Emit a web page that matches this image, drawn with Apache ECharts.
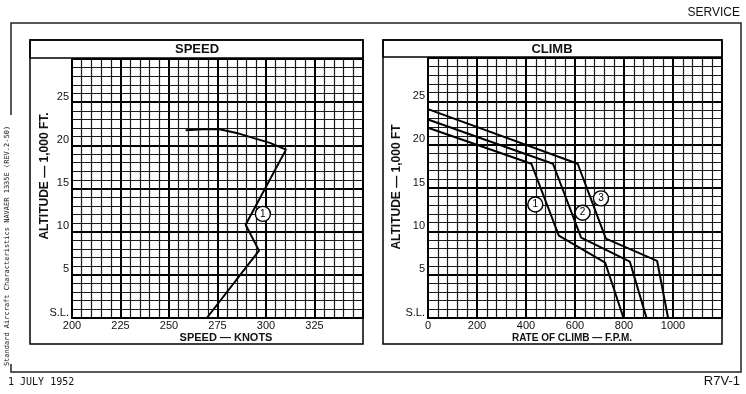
<!DOCTYPE html>
<html><head><meta charset="utf-8">
<script src="https://cdn.jsdelivr.net/npm/echarts@6/dist/echarts.min.js"></script>
<style>html,body{margin:0;padding:0;background:#fff}#c{width:746px;height:394px}</style>
</head><body><div id="c"></div>
<script>
// ---- Data ----
const speedKnots = [269.5, 296.4, 289.5, 310.3, 302.0, 293.3, 284.8, 276.1, 267.5, 258.6];
const speedAlt   = [0, 7.8, 10.8, 19.5, 20.28, 20.86, 21.44, 21.86, 21.85, 21.74];
const speedLabelX = [298.4];
const speedLabelY = [12.06];
const speedLabelText = ['1'];

const climb1Fpm = [0, 422, 534, 723, 798];
const climb1Alt = [21.95, 17.8, 9.5, 6.4, 0];
const climb2Fpm = [0, 510, 625, 824, 892];
const climb2Alt = [22.9, 17.8, 9.27, 6.5, 0];
const climb3Fpm = [0, 611, 726, 935, 980];
const climb3Alt = [24.1, 17.8, 9.16, 6.6, 0];
const climbLabelX = [438, 631, 706];
const climbLabelY = [13.1, 12.15, 13.8];
const climbLabelText = ['1', '2', '3'];

const speedTicks = [200, 225, 250, 275, 300, 325];
const climbTicks = [0, 200, 400, 600, 800, 1000];
const altTicks = ['S.L.', '5', '10', '15', '20', '25'];

// ---- Build ----
const zip = (a, b) => a.map((v, i) => [v, b[i]]);
const labelData = (xs, ys, ts) => xs.map((v, i) => ({ value: [v, ys[i]], name: ts[i] }));
const FONT = '"Liberation Sans", Arial, sans-serif';

function yAxisFor(gi) {
  return {
    gridIndex: gi, type: 'value', min: 0, max: 30, interval: 5,
    axisLine: { show: true, lineStyle: { color: '#000', width: 2 } },
    axisTick: { show: false },
    minorTick: { show: false, splitNumber: 5 },
    splitLine: { show: true, lineStyle: { color: '#000', width: 2 } },
    minorSplitLine: { show: true, lineStyle: { color: '#1a1a1a', width: 1.2 } },
    axisLabel: {
      margin: 3, color: '#111', fontFamily: FONT, fontSize: 11,
      formatter: v => (v / 5 < altTicks.length ? altTicks[v / 5] : ''),
      verticalAlign: 'bottom'
    }
  };
}
function xAxisFor(gi, min, max, interval, ticks) {
  return {
    gridIndex: gi, type: 'value', min, max, interval,
    axisLine: { show: true, lineStyle: { color: '#000', width: 2 } },
    axisTick: { show: false },
    minorTick: { show: false, splitNumber: 5 },
    splitLine: { show: true, lineStyle: { color: '#000', width: 2 } },
    minorSplitLine: { show: true, lineStyle: { color: '#1a1a1a', width: 1.2 } },
    axisLabel: {
      margin: 2, color: '#111', fontFamily: FONT, fontSize: 11,
      formatter: v => (ticks.indexOf(v) >= 0 ? String(v) : '')
    }
  };
}
const lineSeries = (gi, data) => ({
  type: 'line', xAxisIndex: gi, yAxisIndex: gi, data, symbol: 'none',
  lineStyle: { color: '#000', width: 2 }, z: 5, silent: true
});
const labelSeries = (gi, data) => ({
  type: 'scatter', xAxisIndex: gi, yAxisIndex: gi, data, symbol: 'circle', symbolSize: 15,
  itemStyle: { color: '#fff', borderColor: '#000', borderWidth: 1.4, opacity: 1 }, z: 6,
  label: { show: true, position: 'inside', formatter: p => p.name, color: '#000', fontSize: 10, fontFamily: FONT }
});

const txt = (x, y, text, o) => Object.assign({
  type: 'text', x, y,
  style: Object.assign({ text, fill: '#111', font: 'bold 11px ' + FONT, align: 'center', verticalAlign: 'middle' }, (o && o.style) || {})
}, o && o.rotation !== undefined ? { rotation: o.rotation } : {});

const option = {
  backgroundColor: '#fff',
  animation: false,
  grid: [
    { left: 72, top: 59, width: 291, height: 259 },
    { left: 428, top: 58, width: 294, height: 260 }
  ],
  xAxis: [
    xAxisFor(0, 200, 350, 25, speedTicks),
    xAxisFor(1, 0, 1200, 200, climbTicks)
  ],
  yAxis: [yAxisFor(0), yAxisFor(1)],
  series: [
    lineSeries(0, zip(speedKnots, speedAlt)),
    labelSeries(0, labelData(speedLabelX, speedLabelY, speedLabelText)),
    lineSeries(1, zip(climb1Fpm, climb1Alt)),
    lineSeries(1, zip(climb2Fpm, climb2Alt)),
    lineSeries(1, zip(climb3Fpm, climb3Alt)),
    labelSeries(1, labelData(climbLabelX, climbLabelY, climbLabelText))
  ],
  graphic: [
    // outer frame
    { type: 'polyline', shape: { points: [[11, 115], [11, 23], [741, 23], [741, 372], [11, 372], [11, 364]] }, style: { stroke: '#222', lineWidth: 1.5, fill: null } },
    // speed panel
    { type: 'rect', shape: { x: 30, y: 40, width: 333, height: 304 }, style: { stroke: '#000', lineWidth: 1.5, fill: null }, z: 10 },
    { type: 'rect', shape: { x: 30, y: 40, width: 333, height: 18 }, style: { stroke: '#000', lineWidth: 1.5, fill: null }, z: 10 },
    // climb panel
    { type: 'rect', shape: { x: 383, y: 40, width: 339, height: 304 }, style: { stroke: '#000', lineWidth: 1.5, fill: null }, z: 10 },
    { type: 'rect', shape: { x: 383, y: 40, width: 339, height: 17 }, style: { stroke: '#000', lineWidth: 1.5, fill: null }, z: 10 },
    txt(197, 49.5, 'SPEED', { style: { font: 'bold 13px ' + FONT } }),
    txt(552, 49, 'CLIMB', { style: { font: 'bold 13px ' + FONT } }),
    txt(226, 338, 'SPEED — KNOTS'),
    txt(572, 338, 'RATE OF CLIMB — F.P.M.', { style: { font: 'bold 10px ' + FONT } }),
    txt(45, 176, 'ALTITUDE — 1,000 FT.', { rotation: Math.PI / 2, style: { font: 'bold 12px ' + FONT } }),
    txt(397, 187, 'ALTITUDE — 1,000 FT', { rotation: Math.PI / 2, style: { font: 'bold 12px ' + FONT } }),
    txt(740, 13, 'SERVICE', { style: { font: '12px ' + FONT, align: 'right' } }),
    txt(740, 381, 'R7V-1', { style: { font: '13px ' + FONT, align: 'right' } }),
    txt(8, 382, '1 JULY 1952', { style: { font: '10px "DejaVu Sans Mono", monospace', align: 'left' } }),
    txt(7, 246, 'Standard Aircraft Characteristics NAVAER 1335E (REV.2-50)', { rotation: Math.PI / 2, style: { font: '7px "DejaVu Sans Mono", monospace' } })
  ]
};
const chart = echarts.init(document.getElementById('c'), null, { renderer: 'canvas' });
chart.setOption(option);
</script></body></html>
